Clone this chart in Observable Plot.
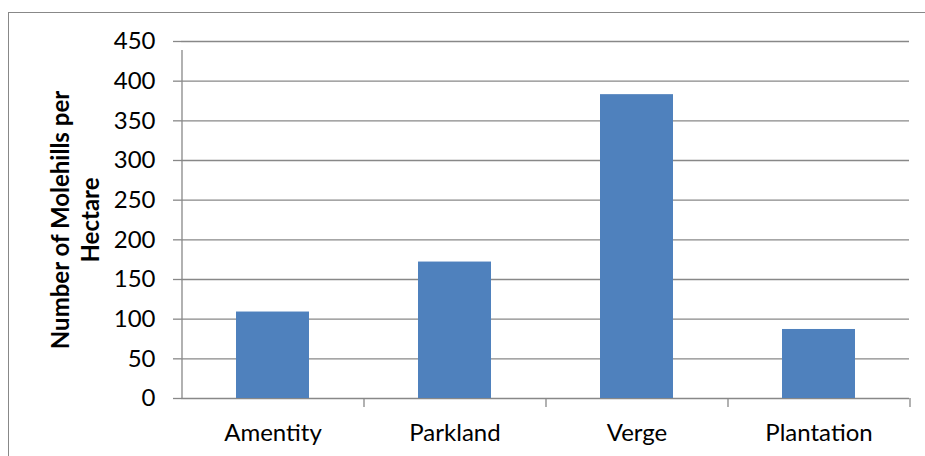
<!DOCTYPE html>
<html>
<head>
<meta charset="utf-8">
<script src="https://cdn.jsdelivr.net/npm/d3@7"></script>
<script src="https://cdn.jsdelivr.net/npm/@observablehq/plot@0.6"></script>
<style>
  body { margin: 0; background: #fff; }
  #wrap { position: relative; width: 925px; height: 456px; overflow: hidden; background: #fff; }
  #frame { position: absolute; left: 8px; top: 12px; width: 940px; height: 470px;
           border: 1.5px solid #888; box-sizing: border-box; }
  #chart { position: absolute; left: 0; top: 0; }
</style>
</head>
<body>
<div id="wrap"><div id="frame"></div><div id="chart"></div></div>
<script>
// Molehill density by habitat type
const habitats = ["Amentity", "Parkland", "Verge", "Plantation"];
const molehills = [109, 172, 383, 87];
const yTicks = [0, 50, 100, 150, 200, 250, 300, 350, 400, 450];
const yTitle = "Number of Molehills per\nHectare";

const W = 925, H = 456;
const mL = 181, mR = 16, mT = 41, mB = 58;
const padIn = 0.6, padOut = 0.3;
const GRID = "#888888";
const BAR = "#4F81BD";

// width of one category band, used to place the category-boundary ticks
const step = (W - mL - mR) / (habitats.length - padIn + 2 * padOut);

const data = habitats.map((h, i) => ({habitat: h, value: molehills[i]}));

const chart = Plot.plot({
  width: W,
  height: H,
  marginLeft: mL,
  marginRight: mR,
  marginTop: mT,
  marginBottom: mB,
  style: {fontFamily: "Lato, 'Liberation Sans', sans-serif", background: "transparent", color: "#000"},
  x: {domain: habitats, paddingInner: padIn, paddingOuter: padOut, label: null},
  y: {domain: [0, 450], label: null},
  marks: [
    Plot.gridY(yTicks, {stroke: GRID, strokeOpacity: 1, strokeWidth: 1.3}),
    Plot.barY(data, {x: "habitat", y: "value", fill: BAR}),
    // vertical axis line, extended down as the first category tick
    Plot.ruleX([habitats[0]], {x: d => d, y1: 0, y2: 450, insetBottom: -9, dx: -step / 2, stroke: GRID, strokeWidth: 1.3}),
    // ticks between categories
    Plot.ruleX(habitats.slice(1), {x: d => d, y1: 0, y2: 0, insetBottom: -9, dx: -step / 2, stroke: GRID, strokeWidth: 1.3}),
    Plot.ruleX(habitats.slice(-1), {x: d => d, y1: 0, y2: 0, insetBottom: -9, dx: step / 2, stroke: GRID, strokeWidth: 1.3}),
    Plot.axisY(yTicks, {tickSize: 8, tickPadding: 18, fontSize: 24, stroke: GRID, strokeWidth: 1.3, fill: "#000", tickFormat: d => String(d), label: null}),
    Plot.axisX({tickSize: 0, tickPadding: 25, fontSize: 24, fill: "#000", label: null}),
    Plot.text([yTitle], {
      frameAnchor: "left", textAnchor: "middle", lineAnchor: "middle",
      rotate: -90, dx: -107, text: d => d,
      fontSize: 24, fontWeight: "bold", lineHeight: 1.25, fill: "#000"
    })
  ]
});

document.getElementById("chart").appendChild(chart);
</script>
</body>
</html>
